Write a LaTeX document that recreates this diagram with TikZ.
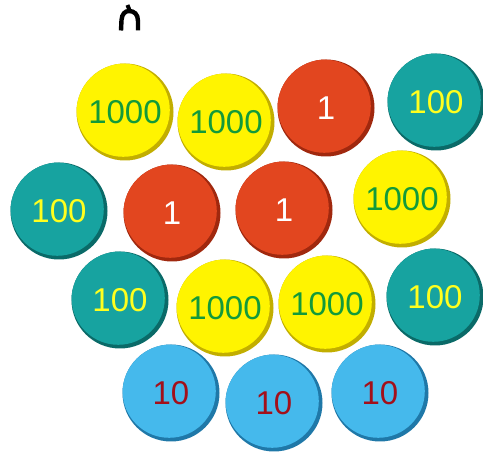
\documentclass[tikz,border=0pt]{standalone}
\usepackage{fontspec}
\newfontfamily\coinfont{Liberation Sans}
\definecolor{yelC}{HTML}{FFF400}
\definecolor{yelD}{HTML}{C2AE00}
\definecolor{yelT}{HTML}{129A3A}
\definecolor{teaC}{HTML}{17A3A0}
\definecolor{teaD}{HTML}{0A6A68}
\definecolor{teaT}{HTML}{FFFF1E}
\definecolor{redC}{HTML}{E2461F}
\definecolor{redD}{HTML}{A0280E}
\definecolor{bluC}{HTML}{45B9EC}
\definecolor{bluD}{HTML}{1F78A8}
\definecolor{bluT}{HTML}{A3101A}
\tikzset{
  coin/.style={circle, minimum size=97pt, inner sep=0pt,
    font=\coinfont\fontsize{33}{33}\selectfont},
  coinface/.style={path picture={\fill[#1] ([shift={(-1.8pt,1.8pt)}]path picture bounding box.center) circle (46.6pt);}},
  yel/.style={coin, fill=yelD, text=yelT, coinface=yelC},
  tea/.style={coin, fill=teaD, text=teaT, coinface=teaC},
  red/.style={coin, fill=redD, text=white, coinface=redC},
  blu/.style={coin, fill=bluD, text=bluT, coinface=bluC},
  glyph/.style={line width=4.4pt, black}
}
\begin{document}
\begin{tikzpicture}[x=1pt,y=-1pt]
\useasboundingbox (0,0) rectangle (483,454);
% Ethiopic letter (drawn)
\draw[glyph] (121,30.5) -- (121.5,20) .. controls (122,14) and (125,11) .. (129,11)
  .. controls (134,11) and (138,14) .. (138,21) -- (138,30.5);
\draw[line width=4pt] (127.5,5) -- (130,11.5);
% row 1
\node[yel] (y1) at (125,112) {1000};
\node[yel] (y2) at (226,122) {1000};
\node[red] (r1) at (326,108) {1};
\node[tea] (t1) at (436,102) {100};
% row 2
\node[tea] (t2) at (59,211) {100};
\node[red] (r2) at (172,213) {1};
\node[red] (r3) at (284,210) {1};
\node[yel] (y3) at (402,199) {1000};
% row 3
\node[tea] (t3) at (120,300) {100};
\node[yel] (y4) at (225,308) {1000};
\node[yel] (y5) at (327,304) {1000};
\node[tea] (t4) at (435,297) {100};
% row 4
\node[blu] (b1) at (171,393) {10};
\node[blu] (b2) at (274,403) {10};
\node[blu] (b3) at (380,393) {10};
\end{tikzpicture}
\end{document}
